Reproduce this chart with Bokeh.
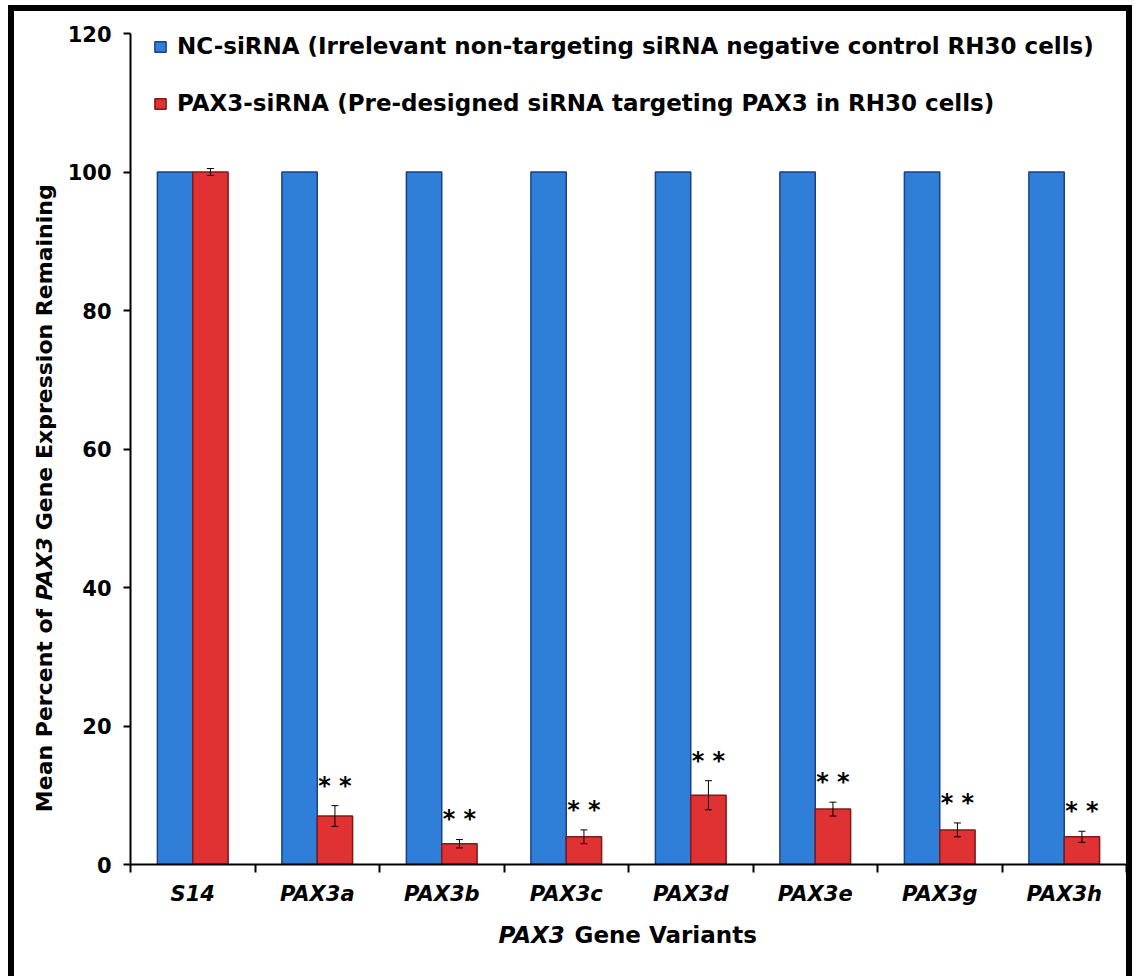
import math

from bokeh.core.properties import value
from bokeh.embed import file_html
from bokeh.layouts import column, row
from bokeh.models import (ColumnDataSource, FixedTicker, Legend, LegendItem,
                          Range1d, TeeHead, Whisker)
from bokeh.plotting import figure
from bokeh.resources import INLINE
from bokeh.transform import dodge

# ---- data -------------------------------------------------------------
variants = ["S14", "PAX3a", "PAX3b", "PAX3c", "PAX3d", "PAX3e", "PAX3g", "PAX3h"]
nc_sirna = [100, 100, 100, 100, 100, 100, 100, 100]
pax3_sirna = [100, 7, 3, 4, 10, 8, 5, 4]
pax3_err = [0.5, 1.5, 0.6, 1.0, 2.1, 1.0, 1.0, 0.8]
significance = ["", "* *", "* *", "* *", "* *", "* *", "* *", "* *"]
y_ticks = [0, 20, 40, 60, 80, 100, 120]

nc_label = "NC-siRNA (Irrelevant non-targeting siRNA negative control RH30 cells)"
pax3_label = "PAX3-siRNA (Pre-designed siRNA targeting PAX3 in RH30 cells)"

# axis titles, split into upright / italic runs
y_title_runs = ["Mean Percent of", "PAX3", "Gene Expression Remaining"]
x_title_runs = ["PAX3", "Gene Variants"]

# ---- styling ----------------------------------------------------------
FONT = "DejaVu Sans"
BLUE, BLUE_EDGE = "#2f7fd9", "#1d3f86"
RED, RED_EDGE = "#e03232", "#7e1a1a"
BAR_W = 0.284
HALF = BAR_W / 2
STAR_GAP = 2.9  # gap between error-bar top and the significance marks

TOTAL_W, TOTAL_H = 1112, 965   # drawing area inside the black frame
STRIP_W = 50                   # strip left of the chart for the y title
STRIP_H = 55                   # strip below the chart for the x title
MAIN_W, MAIN_H = TOTAL_W - STRIP_W, TOTAL_H - STRIP_H

centers = [i + 0.5 for i in range(len(variants))]
bounds = list(range(len(variants) + 1))

src = ColumnDataSource(dict(
    x=centers,
    nc=nc_sirna,
    pax3=pax3_sirna,
    lo=[v - e for v, e in zip(pax3_sirna, pax3_err)],
    hi=[v + e for v, e in zip(pax3_sirna, pax3_err)],
    star_y=[v + e + STAR_GAP for v, e in zip(pax3_sirna, pax3_err)],
    stars=significance,
))

# ---- main chart -------------------------------------------------------
p = figure(width=MAIN_W, height=MAIN_H,
           x_range=Range1d(0, len(variants)), y_range=Range1d(0, 120),
           output_backend="svg", toolbar_location=None,
           min_border_left=66, min_border_right=0,
           min_border_top=22, min_border_bottom=57)
p.outline_line_color = None
p.xgrid.visible = False
p.ygrid.visible = False
p.background_fill_color = "white"
p.border_fill_color = "white"

r_nc = p.vbar(x=dodge("x", -HALF), top="nc", width=BAR_W, source=src,
              fill_color=BLUE, line_color=BLUE_EDGE, line_width=1.5)
r_pax = p.vbar(x=dodge("x", HALF), top="pax3", width=BAR_W, source=src,
               fill_color=RED, line_color=RED_EDGE, line_width=1.5)

err = Whisker(source=src, base=dodge("x", HALF), lower="lo", upper="hi",
              line_color="black", line_width=1,
              lower_head=TeeHead(size=7, line_width=1, line_color="black"),
              upper_head=TeeHead(size=7, line_width=1, line_color="black"),
              level="overlay")
p.add_layout(err)

p.text(x=dodge("x", HALF), y="star_y", text="stars", source=src,
       text_font=value(FONT), text_font_style="bold", text_font_size="24px",
       text_align="center", text_baseline="alphabetic", text_color="black")

p.xaxis.ticker = FixedTicker(ticks=centers, minor_ticks=bounds)
p.xaxis.major_label_overrides = {c: v for c, v in zip(centers, variants)}
p.xaxis.major_tick_out = 0
p.xaxis.major_tick_in = 0
p.xaxis.minor_tick_out = 8
p.xaxis.minor_tick_in = 0
p.xaxis.minor_tick_line_width = 2
p.xaxis.minor_tick_line_color = "black"
p.xaxis.axis_line_width = 2
p.xaxis.axis_line_color = "black"
p.xaxis.major_label_text_font = FONT
p.xaxis.major_label_text_font_style = "bold italic"
p.xaxis.major_label_text_font_size = "21px"
p.xaxis.major_label_text_color = "black"
p.xaxis.major_label_standoff = 9

p.yaxis.ticker = FixedTicker(ticks=y_ticks)
p.yaxis.major_tick_out = 7
p.yaxis.major_tick_in = 0
p.yaxis.minor_tick_out = 0
p.yaxis.minor_tick_in = 0
p.yaxis.major_tick_line_width = 2
p.yaxis.major_tick_line_color = "black"
p.yaxis.axis_line_width = 2
p.yaxis.axis_line_color = "black"
p.yaxis.major_label_text_font = FONT
p.yaxis.major_label_text_font_style = "bold"
p.yaxis.major_label_text_font_size = "21px"
p.yaxis.major_label_text_color = "black"
p.yaxis.major_label_standoff = 12

legend = Legend(items=[LegendItem(label=nc_label, renderers=[r_nc]),
                       LegendItem(label=pax3_label, renderers=[r_pax])],
                location=(23, 748), orientation="vertical",
                glyph_width=14, glyph_height=13, label_standoff=10,
                label_text_font=FONT, label_text_font_style="bold",
                label_text_font_size="23px", label_text_color="black",
                spacing=31, padding=0, margin=0,
                border_line_color=None, background_fill_alpha=0)
p.add_layout(legend)


def text_strip(width, height):
    """A bare canvas whose data units are pixels, used for axis titles."""
    f = figure(width=width, height=height, title=None,
               x_range=Range1d(0, width), y_range=Range1d(0, height),
               output_backend="svg", toolbar_location=None,
               x_axis_type=None, y_axis_type=None,
               min_border_left=0, min_border_right=0,
               min_border_top=0, min_border_bottom=0)
    f.outline_line_color = None
    f.xgrid.visible = False
    f.ygrid.visible = False
    f.border_fill_color = "white"
    f.background_fill_color = "white"
    return f


title_kw = dict(text_font=value(FONT), text_color="black",
                text_baseline="alphabetic")

# ---- y title: reads bottom-to-top, italic gene name in the middle -----
ys = text_strip(STRIP_W, MAIN_H)
ys.text(x=[30], y=[280], text=[y_title_runs[0]], angle=math.pi / 2,
        text_align="right", text_font_style="bold", text_font_size="22px",
        **title_kw)
ys.text(x=[30], y=[289], text=[y_title_runs[1]], angle=math.pi / 2,
        text_align="left", text_font_style="bold italic",
        text_font_size="22px", **title_kw)
ys.text(x=[30], y=[366], text=[y_title_runs[2]], angle=math.pi / 2,
        text_align="left", text_font_style="bold", text_font_size="22px",
        **title_kw)

# ---- x title -----------------------------------------------------------
xs = text_strip(TOTAL_W, STRIP_H)
xs.text(x=[484], y=[42], text=[x_title_runs[0]], text_align="left",
        text_font_style="bold italic", text_font_size="23px", **title_kw)
xs.text(x=[560], y=[42], text=[x_title_runs[1]], text_align="left",
        text_font_style="bold", text_font_size="23px", **title_kw)

layout = column(row(ys, p, spacing=0), xs, spacing=0)
layout.styles = {
    "box-sizing": "content-box",
    "margin-left": "8px", "margin-top": "5px",
    "border-left": "6px solid black",
    "border-top": "6px solid black",
    "border-right": "6px solid black",
    "background-color": "white",
}

with open("out.html", "w") as f:
    f.write(file_html(layout, INLINE))
